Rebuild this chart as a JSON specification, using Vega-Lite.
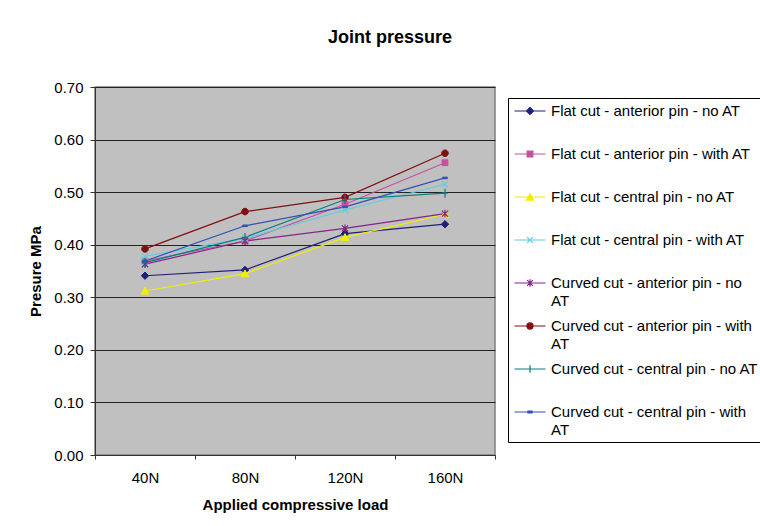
{
  "$schema": "https://vega.github.io/schema/vega-lite/v6.json",
  "autosize": {"type": "none"},
  "padding": {"left": 95, "top": 87, "right": 265, "bottom": 71},
  "width": 400,
  "height": 368,
  "background": "white",
  "title": {
    "text": "Joint pressure",
    "anchor": "middle",
    "frame": "group",
    "dx": 95,
    "offset": 33,
    "fontSize": 18,
    "fontWeight": "bold",
    "font": "Liberation Sans",
    "color": "black"
  },
  "config": {
    "font": "Liberation Sans",
    "view": {"fill": "#C0C0C0", "stroke": "#808080", "strokeWidth": 1.5},
    "axis": {
      "labelFont": "Liberation Sans",
      "titleFont": "Liberation Sans",
      "labelColor": "black",
      "titleColor": "black",
      "labelFontSize": 15,
      "titleFontSize": 15,
      "titleFontWeight": "bold",
      "domainColor": "#333",
      "tickColor": "#333"
    }
  },
  "data": {
    "values": [
      {"load": "40N", "series": "Flat cut - anterior pin - no AT", "value": 0.341},
      {"load": "80N", "series": "Flat cut - anterior pin - no AT", "value": 0.352},
      {"load": "120N", "series": "Flat cut - anterior pin - no AT", "value": 0.421},
      {"load": "160N", "series": "Flat cut - anterior pin - no AT", "value": 0.439},
      {"load": "40N", "series": "Flat cut - anterior pin - with AT", "value": 0.369},
      {"load": "80N", "series": "Flat cut - anterior pin - with AT", "value": 0.407},
      {"load": "120N", "series": "Flat cut - anterior pin - with AT", "value": 0.477},
      {"load": "160N", "series": "Flat cut - anterior pin - with AT", "value": 0.556},
      {"load": "40N", "series": "Flat cut - central pin - no AT", "value": 0.312},
      {"load": "80N", "series": "Flat cut - central pin - no AT", "value": 0.345},
      {"load": "120N", "series": "Flat cut - central pin - no AT", "value": 0.414},
      {"load": "160N", "series": "Flat cut - central pin - no AT", "value": 0.458},
      {"load": "40N", "series": "Flat cut - central pin - with AT", "value": 0.378},
      {"load": "80N", "series": "Flat cut - central pin - with AT", "value": 0.412},
      {"load": "120N", "series": "Flat cut - central pin - with AT", "value": 0.466},
      {"load": "160N", "series": "Flat cut - central pin - with AT", "value": 0.515},
      {"load": "40N", "series": "Curved cut - anterior pin - no AT", "value": 0.363},
      {"load": "80N", "series": "Curved cut - anterior pin - no AT", "value": 0.407},
      {"load": "120N", "series": "Curved cut - anterior pin - no AT", "value": 0.431},
      {"load": "160N", "series": "Curved cut - anterior pin - no AT", "value": 0.459},
      {"load": "40N", "series": "Curved cut - anterior pin - with AT", "value": 0.392},
      {"load": "80N", "series": "Curved cut - anterior pin - with AT", "value": 0.463},
      {"load": "120N", "series": "Curved cut - anterior pin - with AT", "value": 0.490},
      {"load": "160N", "series": "Curved cut - anterior pin - with AT", "value": 0.574},
      {"load": "40N", "series": "Curved cut - central pin - no AT", "value": 0.366},
      {"load": "80N", "series": "Curved cut - central pin - no AT", "value": 0.414},
      {"load": "120N", "series": "Curved cut - central pin - no AT", "value": 0.486},
      {"load": "160N", "series": "Curved cut - central pin - no AT", "value": 0.498},
      {"load": "40N", "series": "Curved cut - central pin - with AT", "value": 0.369},
      {"load": "80N", "series": "Curved cut - central pin - with AT", "value": 0.436},
      {"load": "120N", "series": "Curved cut - central pin - with AT", "value": 0.472},
      {"load": "160N", "series": "Curved cut - central pin - with AT", "value": 0.527}
    ]
  },
  "encoding": {
    "x": {
      "field": "load",
      "type": "nominal",
      "sort": ["40N", "80N", "120N", "160N"],
      "scale": {"type": "band", "domain": ["40N", "80N", "120N", "160N"], "paddingInner": 0, "paddingOuter": 0},
      "axis": {
        "title": "Applied compressive load",
        "labelAngle": 0,
        "tickBand": "extent",
        "tickSize": 4,
        "labelPadding": 11,
        "titlePadding": 12,
        "grid": false
      }
    },
    "y": {
      "field": "value",
      "type": "quantitative",
      "scale": {"domain": [0, 0.7], "nice": false, "zero": true},
      "axis": {
        "title": "Presure MPa",
        "values": [0, 0.1, 0.2, 0.3, 0.4, 0.5, 0.6, 0.7],
        "format": ".2f",
        "tickSize": 5,
        "labelPadding": 7,
        "titlePadding": 10,
        "grid": true,
        "gridColor": "#222",
        "gridOpacity": 1,
        "gridWidth": 1
      }
    }
  },
  "layer": [
    {
      "mark": {"type": "line", "strokeWidth": 1.2},
      "encoding": {
        "color": {
          "field": "series",
          "type": "nominal",
          "scale": {
            "domain": [
              "Flat cut - anterior pin - no AT",
              "Flat cut - anterior pin - with AT",
              "Flat cut - central pin - no AT",
              "Flat cut - central pin - with AT",
              "Curved cut - anterior pin - no AT",
              "Curved cut - anterior pin - with AT",
              "Curved cut - central pin - no AT",
              "Curved cut - central pin - with AT"
            ],
            "range": ["#1F1F7A", "#C8509F", "#F2EE00", "#5FCDDD", "#882288", "#801010", "#008080", "#2F52B8"]
          },
          "legend": {
            "orient": "none",
            "legendX": 413,
            "legendY": 11,
            "title": null,
            "strokeColor": "black",
            "fillColor": "white",
            "padding": 4,
            "symbolSize": 256,
            "symbolOffset": 9,
            "rowPadding": 8,
            "labelOffset": 12,
            "labelFontSize": 15,
            "labelFont": "Liberation Sans",
            "labelColor": "black",
            "labelLimit": 400,
            "labelBaseline": "middle",
            "labelExpr": "datum.label == 'Curved cut - anterior pin - no AT' ? ['Curved cut - anterior pin - no', 'AT'] : datum.label == 'Curved cut - anterior pin - with AT' ? ['Curved cut - anterior pin - with', 'AT'] : datum.label == 'Curved cut - central pin - with AT' ? ['Curved cut - central pin - with', 'AT'] : [datum.label, '']",
            "encode": {
              "labels": {"update": {"lineHeight": {"value": 18}}},
              "symbols": {
                "update": {
                  "shape": {"signal": "['M-1.94,0H1.94M0,-0.44L0.44,0L0,0.44L-0.44,0Z', 'M-1.94,0H1.94M-0.36,-0.36H0.36V0.36H-0.36Z', 'M-1.94,0H1.94M0,-0.42L0.44,0.38H-0.44Z', 'M-1.94,0H1.94M-0.36,-0.36L0.36,0.36M-0.36,0.36L0.36,-0.36', 'M-1.94,0H1.94M-0.36,-0.36L0.36,0.36M-0.36,0.36L0.36,-0.36M0,-0.46V0.46', 'M-1.94,0H1.94M-0.38,0A0.38,0.38,0,1,0,0.38,0A0.38,0.38,0,1,0,-0.38,0Z', 'M-1.94,0H1.94M0,-0.48V0.48', 'M-1.94,0H1.94M-0.26,-0.1H0.26V0.1H-0.26Z'][indexof(['Flat cut - anterior pin - no AT', 'Flat cut - anterior pin - with AT', 'Flat cut - central pin - no AT', 'Flat cut - central pin - with AT', 'Curved cut - anterior pin - no AT', 'Curved cut - anterior pin - with AT', 'Curved cut - central pin - no AT', 'Curved cut - central pin - with AT'], datum.value)]"},
                  "fill": {"scale": "color", "field": "value"},
                  "stroke": {"scale": "color", "field": "value"},
                  "strokeWidth": {"value": 1.2},
                  "opacity": {"value": 1},
                  "fillOpacity": {"value": 1},
                  "strokeOpacity": {"value": 1}
                }
              }
            }
          }
        }
      }
    },
    {
      "transform": [{"filter": {"field": "series", "equal": "Flat cut - anterior pin - no AT"}}],
      "mark": {"type": "point", "shape": "M0,-0.95L0.95,0L0,0.95L-0.95,0Z", "filled": true, "size": 60, "opacity": 1, "fill": "#1F1F7A", "stroke": "#1F1F7A", "strokeWidth": 1}
    },
    {
      "transform": [{"filter": {"field": "series", "equal": "Flat cut - anterior pin - with AT"}}],
      "mark": {"type": "point", "shape": "M-0.75,-0.75H0.75V0.75H-0.75Z", "filled": true, "size": 60, "opacity": 1, "fill": "#C8509F", "stroke": "#C8509F", "strokeWidth": 1}
    },
    {
      "transform": [{"filter": {"field": "series", "equal": "Flat cut - central pin - no AT"}}],
      "mark": {"type": "point", "shape": "M0,-0.95L1,0.8H-1Z", "filled": true, "size": 60, "opacity": 1, "fill": "#F2EE00", "stroke": "#F2EE00", "strokeWidth": 1}
    },
    {
      "transform": [{"filter": {"field": "series", "equal": "Flat cut - central pin - with AT"}}],
      "mark": {"type": "point", "shape": "M-0.8,-0.8L0.8,0.8M-0.8,0.8L0.8,-0.8", "filled": false, "size": 60, "opacity": 1, "stroke": "#5FCDDD", "strokeWidth": 1.2}
    },
    {
      "transform": [{"filter": {"field": "series", "equal": "Curved cut - anterior pin - no AT"}}],
      "mark": {"type": "point", "shape": "M-0.8,-0.8L0.8,0.8M-0.8,0.8L0.8,-0.8M0,-1V1", "filled": false, "size": 60, "opacity": 1, "stroke": "#882288", "strokeWidth": 1.2}
    },
    {
      "transform": [{"filter": {"field": "series", "equal": "Curved cut - anterior pin - with AT"}}],
      "mark": {"type": "point", "shape": "M-0.85,0A0.85,0.85,0,1,0,0.85,0A0.85,0.85,0,1,0,-0.85,0Z", "filled": true, "size": 60, "opacity": 1, "fill": "#801010", "stroke": "#801010", "strokeWidth": 1}
    },
    {
      "transform": [{"filter": {"field": "series", "equal": "Curved cut - central pin - no AT"}}],
      "mark": {"type": "point", "shape": "M-0.8,0H0.8M0,-1.15V1.15", "filled": false, "size": 60, "opacity": 1, "stroke": "#008080", "strokeWidth": 1.2}
    },
    {
      "transform": [{"filter": {"field": "series", "equal": "Curved cut - central pin - with AT"}}],
      "mark": {"type": "point", "shape": "M-0.6,-0.2H0.6V0.2H-0.6Z", "filled": true, "size": 60, "opacity": 1, "fill": "#2F52B8", "stroke": "#2F52B8", "strokeWidth": 1}
    }
  ]
}
